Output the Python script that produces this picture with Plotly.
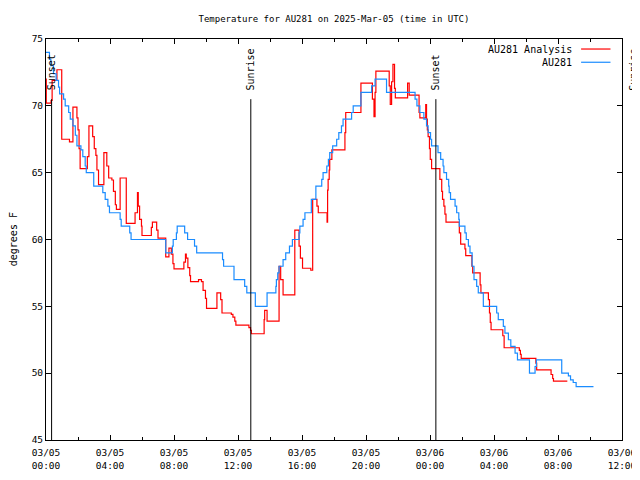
import pandas as pd
import plotly.graph_objects as go

TITLE = "Temperature for AU281 on 2025-Mar-05 (time in UTC)"
Y_TITLE = "degrees F"

# AU281 observations (step series)
obs_time = [
    "2025-03-05 00:00", "2025-03-05 00:13", "2025-03-05 00:18", "2025-03-05 00:28", "2025-03-05 00:38",
    "2025-03-05 00:47", "2025-03-05 00:51", "2025-03-05 01:06", "2025-03-05 01:12", "2025-03-05 01:25",
    "2025-03-05 01:31", "2025-03-05 01:41", "2025-03-05 01:50", "2025-03-05 01:56", "2025-03-05 02:11",
    "2025-03-05 02:18", "2025-03-05 02:27", "2025-03-05 02:31", "2025-03-05 02:59", "2025-03-05 03:33",
    "2025-03-05 03:42", "2025-03-05 03:52", "2025-03-05 03:58", "2025-03-05 04:38", "2025-03-05 04:42",
    "2025-03-05 05:14", "2025-03-05 05:19", "2025-03-05 07:29", "2025-03-05 07:54", "2025-03-05 07:57",
    "2025-03-05 08:09", "2025-03-05 08:12", "2025-03-05 08:40", "2025-03-05 08:51", "2025-03-05 09:17",
    "2025-03-05 09:25", "2025-03-05 11:02", "2025-03-05 11:06", "2025-03-05 11:45", "2025-03-05 12:25",
    "2025-03-05 12:33", "2025-03-05 13:05", "2025-03-05 13:49", "2025-03-05 14:22", "2025-03-05 14:24",
    "2025-03-05 14:29", "2025-03-05 14:34", "2025-03-05 14:49", "2025-03-05 14:59", "2025-03-05 15:13",
    "2025-03-05 15:24", "2025-03-05 15:49", "2025-03-05 15:52", "2025-03-05 16:04", "2025-03-05 16:11",
    "2025-03-05 16:35", "2025-03-05 16:52", "2025-03-05 17:14", "2025-03-05 17:19", "2025-03-05 17:33",
    "2025-03-05 17:39", "2025-03-05 17:44", "2025-03-05 17:55", "2025-03-05 18:10", "2025-03-05 18:18",
    "2025-03-05 18:28", "2025-03-05 18:34", "2025-03-05 19:06", "2025-03-05 19:12", "2025-03-05 19:41",
    "2025-03-05 20:21", "2025-03-05 20:34", "2025-03-05 21:17", "2025-03-05 23:04", "2025-03-05 23:11",
    "2025-03-05 23:22", "2025-03-05 23:37", "2025-03-05 23:47", "2025-03-05 23:53", "2025-03-06 00:02",
    "2025-03-06 00:06", "2025-03-06 00:30", "2025-03-06 00:40", "2025-03-06 00:49", "2025-03-06 00:52",
    "2025-03-06 01:02", "2025-03-06 01:10", "2025-03-06 01:12", "2025-03-06 01:17", "2025-03-06 01:34",
    "2025-03-06 01:40", "2025-03-06 01:48", "2025-03-06 01:50", "2025-03-06 02:11", "2025-03-06 02:16",
    "2025-03-06 02:24", "2025-03-06 02:30", "2025-03-06 02:38", "2025-03-06 02:45", "2025-03-06 02:55",
    "2025-03-06 03:01", "2025-03-06 03:20", "2025-03-06 04:10", "2025-03-06 04:16", "2025-03-06 04:35",
    "2025-03-06 04:41", "2025-03-06 04:54", "2025-03-06 05:03", "2025-03-06 05:19", "2025-03-06 05:28",
    "2025-03-06 06:13", "2025-03-06 06:34", "2025-03-06 06:39", "2025-03-06 08:14", "2025-03-06 08:39",
    "2025-03-06 08:47", "2025-03-06 08:57", "2025-03-06 09:08", "2025-03-06 10:13",
]
obs_temp = [
    74.0, 73.5, 73.0, 72.4, 71.9, 71.4, 70.9, 70.5, 70.0, 69.5,
    69.0, 68.5, 67.8, 67.0, 66.7, 66.2, 65.5, 65.0, 64.0, 63.5,
    63.0, 62.5, 62.0, 61.5, 61.0, 60.5, 60.0, 59.0, 59.5, 60.0,
    60.5, 61.0, 60.5, 60.0, 59.5, 59.0, 58.5, 58.0, 57.0, 56.5,
    56.0, 55.0, 56.0, 56.5, 57.0, 57.5, 58.0, 58.5, 59.0, 59.5,
    60.0, 60.5, 61.0, 61.5, 62.0, 63.0, 64.0, 64.5, 65.0, 65.5,
    66.0, 66.5, 67.0, 67.5, 68.0, 68.5, 69.0, 69.5, 70.0, 71.0,
    71.5, 72.0, 71.0, 70.5, 70.0, 69.5, 69.0, 68.5, 68.0, 67.5,
    67.0, 66.5, 66.0, 65.5, 65.0, 64.5, 64.0, 63.5, 63.0, 62.5,
    62.0, 61.5, 61.0, 60.5, 60.0, 59.5, 59.0, 58.0, 57.0, 56.5,
    56.0, 55.0, 54.5, 54.0, 53.5, 53.0, 52.5, 52.0, 51.5, 51.0,
    50.0, 50.5, 51.0, 50.0, 49.8, 49.5, 49.3, 49.0, 49.0,
]

# AU281 Analysis (step series)
ana_time = [
    "2025-03-05 00:00", "2025-03-05 00:01", "2025-03-05 00:19", "2025-03-05 00:23", "2025-03-05 00:41",
    "2025-03-05 00:59", "2025-03-05 01:28", "2025-03-05 01:41", "2025-03-05 01:56", "2025-03-05 02:00",
    "2025-03-05 02:04", "2025-03-05 02:08", "2025-03-05 02:35", "2025-03-05 02:41", "2025-03-05 02:55",
    "2025-03-05 03:01", "2025-03-05 03:07", "2025-03-05 03:11", "2025-03-05 03:17", "2025-03-05 03:37",
    "2025-03-05 03:48", "2025-03-05 03:55", "2025-03-05 04:07", "2025-03-05 04:13", "2025-03-05 04:20",
    "2025-03-05 04:24", "2025-03-05 04:38", "2025-03-05 05:01", "2025-03-05 05:34", "2025-03-05 05:43",
    "2025-03-05 05:46", "2025-03-05 05:51", "2025-03-05 05:58", "2025-03-05 06:00", "2025-03-05 06:35",
    "2025-03-05 06:39", "2025-03-05 06:55", "2025-03-05 07:00", "2025-03-05 07:29", "2025-03-05 07:41",
    "2025-03-05 07:50", "2025-03-05 07:56", "2025-03-05 08:00", "2025-03-05 08:37", "2025-03-05 08:43",
    "2025-03-05 08:46", "2025-03-05 08:52", "2025-03-05 08:59", "2025-03-05 09:02", "2025-03-05 09:32",
    "2025-03-05 09:43", "2025-03-05 09:49", "2025-03-05 09:58", "2025-03-05 10:02", "2025-03-05 10:41",
    "2025-03-05 10:55", "2025-03-05 11:00", "2025-03-05 11:35", "2025-03-05 11:41", "2025-03-05 11:48",
    "2025-03-05 11:52", "2025-03-05 12:41", "2025-03-05 12:47", "2025-03-05 12:50", "2025-03-05 13:38",
    "2025-03-05 13:40", "2025-03-05 13:49", "2025-03-05 14:34", "2025-03-05 14:40", "2025-03-05 14:49",
    "2025-03-05 15:33", "2025-03-05 15:49", "2025-03-05 15:54", "2025-03-05 16:02", "2025-03-05 16:33",
    "2025-03-05 16:40", "2025-03-05 16:56", "2025-03-05 17:01", "2025-03-05 17:34", "2025-03-05 17:36",
    "2025-03-05 17:38", "2025-03-05 17:42", "2025-03-05 17:44", "2025-03-05 17:52", "2025-03-05 18:41",
    "2025-03-05 18:44", "2025-03-05 19:41", "2025-03-05 20:24", "2025-03-05 20:30", "2025-03-05 20:34",
    "2025-03-05 20:37", "2025-03-05 21:27", "2025-03-05 21:31", "2025-03-05 21:36", "2025-03-05 21:41",
    "2025-03-05 21:47", "2025-03-05 21:50", "2025-03-05 22:36", "2025-03-05 22:42", "2025-03-05 23:19",
    "2025-03-05 23:22", "2025-03-05 23:44", "2025-03-05 23:47", "2025-03-05 23:50", "2025-03-05 23:53",
    "2025-03-05 23:58", "2025-03-06 00:01", "2025-03-06 00:06", "2025-03-06 00:37", "2025-03-06 00:44",
    "2025-03-06 00:47", "2025-03-06 00:52", "2025-03-06 00:56", "2025-03-06 01:00", "2025-03-06 01:50",
    "2025-03-06 01:55", "2025-03-06 02:11", "2025-03-06 02:14", "2025-03-06 02:37", "2025-03-06 02:40",
    "2025-03-06 03:08", "2025-03-06 03:11", "2025-03-06 03:39", "2025-03-06 03:43", "2025-03-06 03:46",
    "2025-03-06 03:49", "2025-03-06 04:33", "2025-03-06 04:38", "2025-03-06 05:35", "2025-03-06 05:39",
    "2025-03-06 05:42", "2025-03-06 06:37", "2025-03-06 06:40", "2025-03-06 07:34", "2025-03-06 07:40",
    "2025-03-06 07:43", "2025-03-06 08:35",
]
ana_temp = [
    72.0, 70.2, 70.4, 71.9, 72.7, 67.5, 67.3, 69.9, 69.1, 68.2,
    66.8, 65.3, 66.2, 68.5, 67.7, 66.8, 66.3, 65.2, 64.1, 66.5,
    65.5, 64.6, 64.45, 63.6, 62.6, 62.25, 64.6, 61.2, 62.0, 63.5,
    62.5, 61.5, 61.0, 60.3, 60.9, 61.3, 60.7, 60.1, 58.7, 59.35,
    58.9, 58.2, 57.8, 58.3, 58.9, 58.6, 57.9, 57.3, 56.85, 57.0,
    56.85, 56.2, 55.6, 54.85, 56.0, 55.5, 54.5, 54.4, 54.2, 53.9,
    53.6, 53.4, 53.2, 52.95, 54.0, 54.7, 53.9, 58.0, 57.0, 55.85,
    60.7, 59.5, 58.6, 57.85, 57.7, 63.0, 62.5, 62.0, 61.3, 63.7,
    64.5, 65.2, 66.0, 66.7, 68.0, 69.5, 71.7, 70.5, 69.2, 71.0,
    72.6, 71.5, 70.1, 71.8, 73.1, 71.3, 70.6, 71.7, 70.8, 69.5,
    69.1, 70.1, 69.0, 68.2, 67.7, 66.8, 66.0, 65.3, 64.5, 63.6,
    63.0, 62.5, 61.9, 61.3, 60.5, 59.65, 59.3, 58.8, 58.0, 57.5,
    56.6, 56.0, 55.5, 54.5, 53.8, 53.25, 52.8, 51.9, 51.7, 51.4,
    51.1, 50.75, 50.25, 49.9, 49.6, 49.4, 49.4,
]

event_time = ["2025-03-05 00:21", "2025-03-05 12:48", "2025-03-06 00:22", "2025-03-06 12:45"]
event_label = ["Sunset", "Sunrise", "Sunset", "Sunrise"]

x_range = ["2025-03-05 00:00", "2025-03-06 12:00"]
y_range = [45, 75]
x_tickvals = ["2025-03-05 00:00", "2025-03-05 04:00", "2025-03-05 08:00", "2025-03-05 12:00",
              "2025-03-05 16:00", "2025-03-05 20:00", "2025-03-06 00:00", "2025-03-06 04:00",
              "2025-03-06 08:00", "2025-03-06 12:00"]
x_ticktext = ["03/05<br>00:00", "03/05<br>04:00", "03/05<br>08:00", "03/05<br>12:00",
              "03/05<br>16:00", "03/05<br>20:00", "03/06<br>00:00", "03/06<br>04:00",
              "03/06<br>08:00", "03/06<br>12:00"]
y_tickvals = [45, 50, 55, 60, 65, 70, 75]

series_names = ["AU281 Analysis", "AU281"]
series_colors = ["#ff0000", "#1a8cff"]

FONT = "DejaVu Sans Mono"

fig = go.Figure()
fig.add_trace(go.Scatter(x=ana_time, y=ana_temp, mode="lines", line_shape="hv",
                         line=dict(color=series_colors[0], width=1.2), name=series_names[0],
                         showlegend=False))
fig.add_trace(go.Scatter(x=obs_time, y=obs_temp, mode="lines", line_shape="hv",
                         line=dict(color=series_colors[1], width=1.2), name=series_names[1],
                         showlegend=False))

t0 = pd.Timestamp(x_range[0])
t1 = pd.Timestamp(x_range[1])
span = (t1 - t0).total_seconds()

for t, lab in zip(event_time, event_label):
    fx = (pd.Timestamp(t) - t0).total_seconds() / span
    fig.add_shape(type="line", xref="paper", yref="paper", x0=fx, x1=fx, y0=0, y1=0.85,
                  line=dict(color="black", width=1))
    fig.add_annotation(xref="paper", yref="paper", x=fx, y=0.866, text=lab, textangle=-90,
                       showarrow=False, xanchor="center", yanchor="bottom",
                       font=dict(family=FONT, size=10, color="black"))

# gnuplot-style legend: text then line sample
leg_y = [0.975, 0.942]
for name, col, ly in zip(series_names, series_colors, leg_y):
    fig.add_annotation(xref="paper", yref="paper", x=0.916, y=ly, text=name, showarrow=False,
                       xanchor="right", yanchor="middle", font=dict(family=FONT, size=10, color="black"))
    fig.add_shape(type="line", xref="paper", yref="paper", x0=0.929, x1=0.98, y0=ly, y1=ly,
                  line=dict(color=col, width=1.2))

# y-axis title drawn as rotated text at the far left
fig.add_annotation(xref="paper", yref="paper", x=-0.056, y=0.5, text=Y_TITLE, textangle=-90,
                   showarrow=False, xanchor="center", yanchor="middle",
                   font=dict(family=FONT, size=10, color="black"))

# the page body adds an 8px offset; the figure is sized so the plot lands where the reference has it
fig.update_layout(
    width=632, height=472,
    margin=dict(l=38, r=18, t=31, b=40),
    paper_bgcolor="white", plot_bgcolor="white",
    title=dict(text=TITLE, x=0.5, xref="paper", xanchor="center", y=0.977, yanchor="middle",
               font=dict(family=FONT, size=9, color="black")),
    font=dict(family=FONT, size=10, color="black"),
    showlegend=False,
)
fig.update_xaxes(
    type="date", range=x_range, tickvals=x_tickvals, ticktext=x_ticktext, automargin=False,
    ticks="inside", ticklen=5, tickcolor="black", showline=True, linecolor="black", linewidth=1,
    mirror="allticks", showgrid=False, zeroline=False, ticklabelstandoff=4,
    minor=dict(dtick=2 * 3600 * 1000, ticks="inside", ticklen=3, tickcolor="black", showgrid=False),
    tickfont=dict(family=FONT, size=9.5, color="black"),
)
fig.update_yaxes(
    range=y_range, tickvals=y_tickvals, ticks="inside", ticklen=5, tickcolor="black", automargin=False,
    showline=True, linecolor="black", linewidth=1, mirror="allticks", showgrid=False, zeroline=False,
    tickfont=dict(family=FONT, size=9.5, color="black"),
)

fig.write_html("out.html")
